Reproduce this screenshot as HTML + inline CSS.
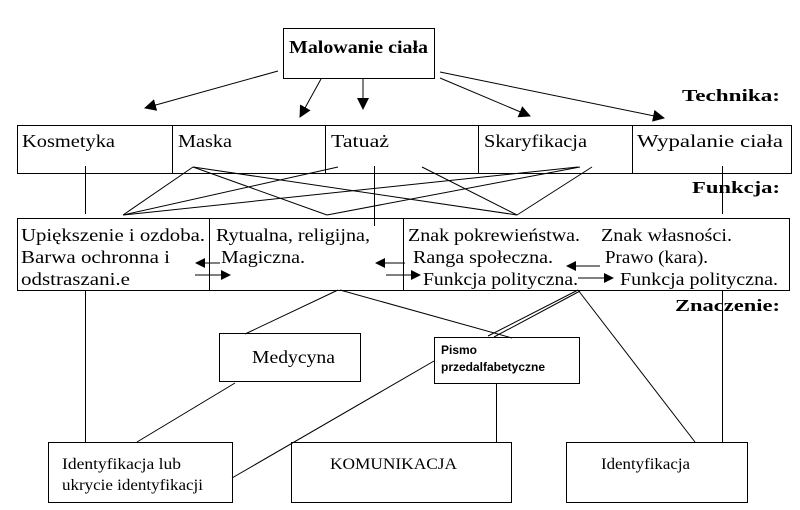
<!DOCTYPE html>
<html><head><meta charset="utf-8"><style>
html,body{margin:0;padding:0;background:#fff;}
svg{display:block;}
text{font-family:"Liberation Serif",serif;font-size:18px;fill:#000;}
.b{font-weight:bold;}
.h{font-weight:bold;font-size:17px;}
.s{font-family:"Liberation Sans",sans-serif;font-weight:bold;font-size:12px;}
.sm{font-size:16px;}
</style></head><body>
<svg width="800" height="510" viewBox="0 0 800 510" xmlns="http://www.w3.org/2000/svg">
<defs><marker id="a" markerWidth="10" markerHeight="10" refX="9" refY="5" orient="auto" markerUnits="userSpaceOnUse"><path d="M0,0 L10,5 L0,10 z" fill="#000"/></marker>
<marker id="a2" markerWidth="12" markerHeight="12" refX="11" refY="6" orient="auto" markerUnits="userSpaceOnUse"><path d="M0,0 L12,6 L0,12 z" fill="#000"/></marker></defs>
<g stroke="#000" fill="none" stroke-width="1">
<rect x="283.5" y="28.5" width="151" height="50"/>
<line x1="278" y1="71" x2="145" y2="108" marker-end="url(#a2)"/>
<line x1="321" y1="79" x2="300" y2="117" marker-end="url(#a2)"/>
<line x1="363" y1="79" x2="363" y2="109" marker-end="url(#a2)"/>
<line x1="440" y1="78" x2="530" y2="116" marker-end="url(#a2)"/>
<line x1="440" y1="72" x2="664" y2="118" marker-end="url(#a2)"/>
<rect x="17.5" y="125.5" width="774" height="48"/>
<line x1="172.5" y1="125" x2="172.5" y2="173"/>
<line x1="325.5" y1="125" x2="325.5" y2="173"/>
<line x1="478.5" y1="125" x2="478.5" y2="173"/>
<line x1="632.5" y1="125" x2="632.5" y2="173"/>
<line x1="85.5" y1="166" x2="85.5" y2="214"/>
<line x1="374.5" y1="166" x2="374.5" y2="226"/>
<line x1="722.5" y1="166" x2="722.5" y2="214"/>
<line x1="193" y1="167" x2="123" y2="215"/>
<line x1="193" y1="167" x2="327" y2="215"/>
<line x1="327" y1="215" x2="580" y2="167"/>
<line x1="193" y1="167" x2="517" y2="215"/>
<line x1="123" y1="215" x2="338" y2="167"/>
<line x1="123" y1="215" x2="578" y2="167"/>
<line x1="422" y1="167" x2="517" y2="215"/>
<line x1="592" y1="167" x2="517" y2="215"/>
<rect x="17.5" y="218.5" width="772" height="72"/>
<line x1="209.5" y1="218" x2="209.5" y2="290"/>
<line x1="403.5" y1="218" x2="403.5" y2="290"/>
<line x1="220" y1="263" x2="196" y2="263" marker-end="url(#a)"/>
<line x1="195" y1="275" x2="230" y2="275" marker-end="url(#a)"/>
<line x1="405" y1="263" x2="376" y2="263" marker-end="url(#a)"/>
<line x1="386" y1="275" x2="420" y2="275" marker-end="url(#a)"/>
<line x1="600" y1="266" x2="567" y2="266" marker-end="url(#a)"/>
<line x1="578" y1="278" x2="613" y2="278" marker-end="url(#a)"/>
<line x1="85.5" y1="290" x2="85.5" y2="442"/>
<line x1="722.5" y1="290" x2="722.5" y2="442"/>
<line x1="338" y1="290" x2="245" y2="334"/>
<line x1="340" y1="290" x2="512" y2="338"/>
<line x1="578" y1="290" x2="488" y2="336"/>
<line x1="580" y1="291" x2="494" y2="337"/>
<line x1="578" y1="290" x2="695" y2="442"/>
<rect x="219.5" y="333.5" width="141" height="48"/>
<rect x="434.5" y="337.5" width="145" height="46"/>
<line x1="235" y1="383" x2="137" y2="442"/>
<line x1="434" y1="361" x2="232" y2="478"/>
<line x1="496.5" y1="384" x2="496.5" y2="442"/>
<rect x="48.5" y="442.5" width="184" height="60"/>
<rect x="291.5" y="442.5" width="220" height="60"/>
<rect x="566.5" y="442.5" width="181" height="60"/>
</g>
<g lengthAdjust="spacingAndGlyphs">
<text x="289" y="53" class="b" textLength="139" lengthAdjust="spacingAndGlyphs">Malowanie ciała</text>
<text x="682" y="101" class="h" textLength="98" lengthAdjust="spacingAndGlyphs">Technika:</text>
<text x="22" y="147" textLength="93" lengthAdjust="spacingAndGlyphs">Kosmetyka</text>
<text x="178" y="147" textLength="54" lengthAdjust="spacingAndGlyphs">Maska</text>
<text x="331" y="147" textLength="58" lengthAdjust="spacingAndGlyphs">Tatuaż</text>
<text x="484" y="147" textLength="103" lengthAdjust="spacingAndGlyphs">Skaryfikacja</text>
<text x="637" y="147" textLength="146" lengthAdjust="spacingAndGlyphs">Wypalanie ciała</text>
<text x="692" y="193" class="h" textLength="88" lengthAdjust="spacingAndGlyphs">Funkcja:</text>
<text x="21" y="241" textLength="184" lengthAdjust="spacingAndGlyphs">Upiększenie i ozdoba.</text>
<text x="21" y="263" textLength="149" lengthAdjust="spacingAndGlyphs">Barwa ochronna i</text>
<text x="21" y="285" textLength="109" lengthAdjust="spacingAndGlyphs">odstraszani.e</text>
<text x="216" y="241" textLength="154" lengthAdjust="spacingAndGlyphs">Rytualna, religijna,</text>
<text x="221" y="263" textLength="84" lengthAdjust="spacingAndGlyphs">Magiczna.</text>
<text x="408" y="241" textLength="172" lengthAdjust="spacingAndGlyphs">Znak pokrewieństwa.</text>
<text x="413" y="263" textLength="140" lengthAdjust="spacingAndGlyphs">Ranga społeczna.</text>
<text x="423" y="285" textLength="155" lengthAdjust="spacingAndGlyphs">Funkcja polityczna.</text>
<text x="601" y="241" textLength="131" lengthAdjust="spacingAndGlyphs">Znak własności.</text>
<text x="605" y="263" textLength="103" lengthAdjust="spacingAndGlyphs">Prawo (kara).</text>
<text x="620" y="285" textLength="158" lengthAdjust="spacingAndGlyphs">Funkcja polityczna.</text>
<text x="675" y="311" class="h" textLength="105" lengthAdjust="spacingAndGlyphs">Znaczenie:</text>
<text x="252" y="363" textLength="83" lengthAdjust="spacingAndGlyphs">Medycyna</text>
<text x="441" y="354" class="s">Pismo</text>
<text x="441" y="371" class="s">przedalfabetyczne</text>
<text x="62" y="469" class="sm" textLength="119" lengthAdjust="spacingAndGlyphs">Identyfikacja lub</text>
<text x="62" y="490" class="sm" textLength="141" lengthAdjust="spacingAndGlyphs">ukrycie identyfikacji</text>
<text x="330" y="469" class="sm" textLength="127" lengthAdjust="spacingAndGlyphs">KOMUNIKACJA</text>
<text x="601" y="469" class="sm" textLength="89" lengthAdjust="spacingAndGlyphs">Identyfikacja</text>
</g>
</svg>
</body></html>
